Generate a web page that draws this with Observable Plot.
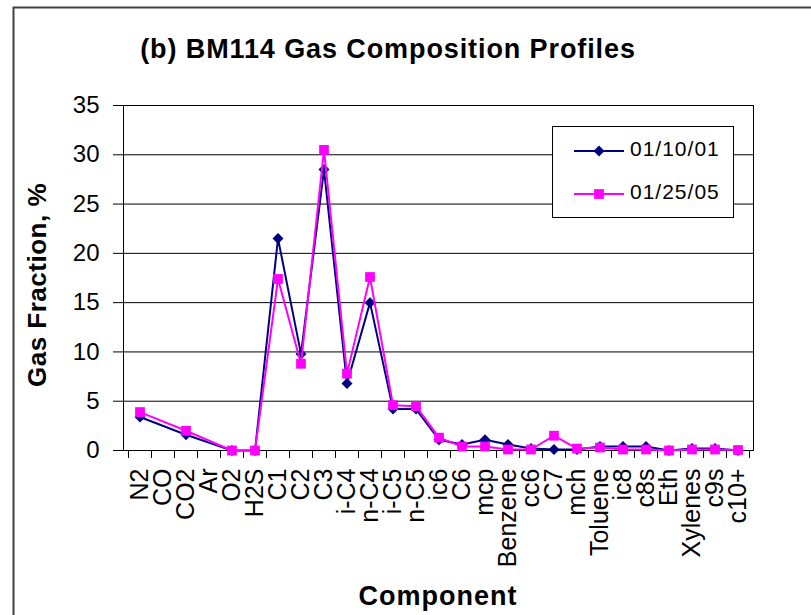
<!DOCTYPE html>
<html>
<head>
<meta charset="utf-8">
<script src="https://cdn.jsdelivr.net/npm/d3@7"></script>
<script src="https://cdn.jsdelivr.net/npm/@observablehq/plot@0.6"></script>
<style>
  html, body { margin: 0; padding: 0; background: #fff; overflow: hidden; }
  #chart { width: 811px; height: 615px; }
</style>
</head>
<body>
<div id="chart"></div>
<script>
const categories = ["N2","CO","CO2","Ar","O2","H2S","C1","C2","C3","i-C4","n-C4","i-C5","n-C5","ic6","C6","mcp","Benzene","cc6","C7","mch","Toluene","ic8","c8s","Eth","Xylenes","c9s","c10+"];
const series1Name = "01/10/01";
const series2Name = "01/25/05";
const series1 = [3.4, null, 1.6, null, 0, 0, 21.5, 9.8, 28.5, 6.8, 15.0, 4.2, 4.2, 1.1, 0.6, 1.1, 0.6, 0.2, 0.1, 0.1, 0.4, 0.4, 0.4, 0.0, 0.2, 0.2, 0.0];
const series2 = [3.9, null, 2.0, null, 0, 0, 17.4, 8.8, 30.5, 7.8, 17.6, 4.6, 4.5, 1.3, 0.4, 0.4, 0.1, 0.1, 1.5, 0.2, 0.3, 0.1, 0.1, 0.0, 0.1, 0.1, 0.05];
const yTicks = [0, 5, 10, 15, 20, 25, 30, 35];
const title = "(b) BM114 Gas Composition Profiles";
const xLabel = "Component";
const yLabel = "Gas Fraction, %";

const color1 = "#000080";
const color2 = "#FF00FF";
const FONT = '"Liberation Sans", Arial, Helvetica, sans-serif';

function toRows(values, name) {
  const out = [];
  categories.forEach((c, i) => {
    if (values[i] != null) out.push({component: c, value: values[i], series: name});
  });
  return out;
}
const rows1 = toRows(series1, series1Name);
const rows2 = toRows(series2, series2Name);

const diamondSymbol = {
  draw(ctx, size) {
    const r = Math.sqrt(size / 2);
    ctx.moveTo(0, -r); ctx.lineTo(r, 0); ctx.lineTo(0, r); ctx.lineTo(-r, 0); ctx.closePath();
  }
};

// tick marks at category boundaries, positioned by the band scale
function boundaryTicks(index, scales) {
  const x = scales.x, y = scales.y;
  const bw = x.bandwidth();
  const edges = categories.map(c => x(c)).concat([x(categories[categories.length - 1]) + bw]);
  const y0 = y(0);
  const g = d3.create("svg:g");
  g.selectAll("line").data(edges).join("line")
    .attr("x1", d => Math.round(d) + 0.5).attr("x2", d => Math.round(d) + 0.5)
    .attr("y1", y0).attr("y2", y0 + 8)
    .attr("stroke", "black");
  return g.node();
}

const chart = Plot.plot({
  width: 811,
  height: 615,
  marginLeft: 123,
  marginRight: 58,
  marginTop: 105,
  marginBottom: 165,
  style: {fontFamily: FONT, fontSize: "25px", color: "black", background: "white"},
  x: {type: "band", domain: categories, padding: 0, tickSize: 0, tickPadding: 18, tickRotate: -90, label: null},
  y: {domain: [0, 35], ticks: yTicks, tickSize: 10, tickPadding: 14, label: null},
  marks: [
    Plot.ruleY(yTicks.slice(1, -1), {stroke: "#000", strokeWidth: 1}),
    Plot.frame({stroke: "black"}),
    boundaryTicks,
    Plot.line(rows1, {x: "component", y: "value", stroke: color1, strokeWidth: 2}),
    Plot.dot(rows1, {x: "component", y: "value", symbol: diamondSymbol, r: 4.4, fill: color1, stroke: "none"}),
    Plot.line(rows2, {x: "component", y: "value", stroke: color2, strokeWidth: 2}),
    Plot.dot(rows2, {x: "component", y: "value", symbol: "square", r: 5.5, fill: color2, stroke: "none"})
  ]
});

const svg = d3.select(chart);
svg.selectAll('[aria-label="y-axis tick label"]').attr("font-size", 24);

// outer chart-area border (top and left visible)
svg.append("path").attr("d", "M13.5,615 V7.5 H811").attr("fill", "none").attr("stroke", "#404040").attr("stroke-width", 2);

// title
svg.append("text").attr("x", 388).attr("y", 58).attr("text-anchor", "middle")
  .attr("font-family", FONT).attr("font-weight", "bold").attr("font-size", 27).attr("letter-spacing", 0.9)
  .text(title);

// y label
svg.append("text").attr("transform", "translate(46,285) rotate(-90)").attr("text-anchor", "middle")
  .attr("font-family", FONT).attr("font-weight", "bold").attr("font-size", 26).attr("letter-spacing", 0.5)
  .text(yLabel);

// x label
svg.append("text").attr("x", 438).attr("y", 605).attr("text-anchor", "middle")
  .attr("font-family", FONT).attr("font-weight", "bold").attr("font-size", 27).attr("letter-spacing", 1)
  .text(xLabel);

// legend
const lg = svg.append("g");
lg.append("rect").attr("x", 552.5).attr("y", 126.5).attr("width", 181).attr("height", 91)
  .attr("fill", "white").attr("stroke", "black");
const legendItems = [
  {name: series1Name, color: color1, symbol: diamondSymbol, size: Math.PI * 4.4 * 4.4, cy: 151},
  {name: series2Name, color: color2, symbol: d3.symbolSquare, size: Math.PI * 5.5 * 5.5, cy: 194}
];
legendItems.forEach(it => {
  lg.append("line").attr("x1", 574).attr("x2", 624).attr("y1", it.cy).attr("y2", it.cy)
    .attr("stroke", it.color).attr("stroke-width", 2);
  lg.append("path").attr("transform", `translate(599,${it.cy})`)
    .attr("d", d3.symbol(it.symbol, it.size)()).attr("fill", it.color);
  lg.append("text").attr("x", 630).attr("y", it.cy + 5).attr("text-anchor", "start")
    .attr("font-family", FONT).attr("font-size", 21).attr("letter-spacing", 1)
    .text(it.name);
});

document.getElementById("chart").appendChild(chart);
</script>
</body>
</html>
